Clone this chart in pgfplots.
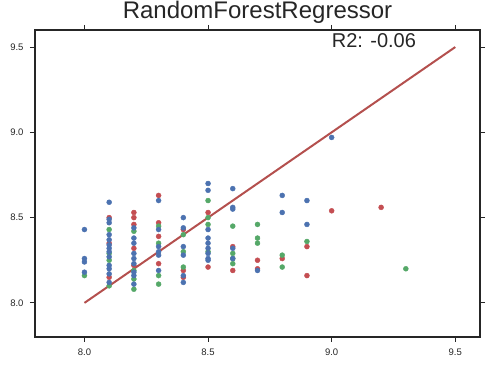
\documentclass[border=0pt]{standalone}
\usepackage{fontspec}
\setmainfont{Liberation Sans}
\usepackage{pgfplots}
\pgfplotsset{compat=1.18}
\definecolor{sbblue}{HTML}{4C72B0}
\definecolor{sbgreen}{HTML}{55A868}
\definecolor{sbred}{HTML}{C44E52}
\definecolor{lnred}{HTML}{B4504E}
\definecolor{axgray}{HTML}{262626}
\begin{document}
\begin{tikzpicture}[x=1pt,y=1pt]
\begin{axis}[
  at={(0,0)}, anchor=south west,
  width=445pt, height=307pt, scale only axis,
  xmin=7.8, xmax=9.6, ymin=7.8, ymax=9.6,
  xtick={8.0,8.5,9.0,9.5}, ytick={8.0,8.5,9.0,9.5},
  xticklabels={8.0,8.5,9.0,9.5}, yticklabels={8.0,8.5,9.0,9.5},
  tick align=outside, major tick length=5pt,
  tick pos=both,
  axis line style={axgray, line width=1.1pt},
  every tick/.style={axgray, line width=0.9pt},
  tick label style={font=\fontsize{9.5}{11}\selectfont, text=axgray},
  xticklabel style={yshift=-3pt},
  yticklabel style={xshift=-3pt},
  /pgf/number format/assume math mode=true,
  title={RandomForestRegressor},
  title style={font=\fontsize{24}{28}\selectfont, text=axgray, at={(0.5,1)}, anchor=base, yshift=5pt},
  clip=false,
]
\addplot[sbred, only marks, mark=*, mark size=2.5pt] coordinates {
(8.1,8.50)(8.1,8.35)(8.1,8.15)
(8.2,8.53)(8.2,8.50)(8.2,8.46)(8.2,8.32)(8.2,8.22)
(8.3,8.63)(8.3,8.47)(8.3,8.39)(8.3,8.23)
(8.4,8.43)(8.4,8.19)(8.4,8.15)
(8.5,8.53)(8.5,8.21)
(8.6,8.33)(8.6,8.19)
(8.7,8.25)(8.7,8.20)
(8.8,8.26)
(8.9,8.33)(8.9,8.16)
(9.0,8.54)
(9.2,8.56)
};
\addplot[sbgreen, only marks, mark=*, mark size=2.5pt] coordinates {
(8.0,8.16)
(8.1,8.43)(8.1,8.29)(8.1,8.25)(8.1,8.10)
(8.2,8.42)(8.2,8.19)(8.2,8.14)(8.2,8.08)
(8.3,8.45)(8.3,8.35)(8.3,8.16)(8.3,8.11)
(8.4,8.40)(8.4,8.30)(8.4,8.21)
(8.5,8.60)(8.5,8.50)(8.5,8.46)(8.5,8.30)
(8.6,8.45)(8.6,8.29)(8.6,8.26)(8.6,8.23)
(8.7,8.46)(8.7,8.38)(8.7,8.35)
(8.8,8.28)(8.8,8.21)
(8.9,8.36)
(9.3,8.20)
};
\addplot[sbblue, only marks, mark=*, mark size=2.5pt] coordinates {
(8.0,8.43)(8.0,8.26)(8.0,8.24)(8.0,8.18)
(8.1,8.59)(8.1,8.49)(8.1,8.47)(8.1,8.40)(8.1,8.37)(8.1,8.34)(8.1,8.32)(8.1,8.30)(8.1,8.27)(8.1,8.22)(8.1,8.20)(8.1,8.17)(8.1,8.12)
(8.2,8.44)(8.2,8.38)(8.2,8.35)(8.2,8.29)(8.2,8.26)(8.2,8.23)(8.2,8.18)(8.2,8.16)(8.2,8.11)
(8.3,8.60)(8.3,8.43)(8.3,8.33)(8.3,8.30)(8.3,8.28)(8.3,8.19)
(8.4,8.50)(8.4,8.44)(8.4,8.33)(8.4,8.28)(8.4,8.16)(8.4,8.12)
(8.5,8.70)(8.5,8.66)(8.5,8.43)(8.5,8.38)(8.5,8.35)(8.5,8.32)(8.5,8.29)(8.5,8.26)(8.5,8.25)
(8.6,8.67)(8.6,8.56)(8.6,8.55)(8.6,8.32)(8.6,8.26)
(8.7,8.19)
(8.8,8.63)(8.8,8.53)
(8.9,8.60)(8.9,8.46)
(9.0,8.97)
};
\addplot[lnred, line width=2pt] coordinates {(8.0,8.0)(9.5,9.5)};
\node[anchor=base west, inner sep=0pt, text=axgray, font=\fontsize{20}{24}\selectfont] at (axis cs:9.0,9.5) {R2: -0.06};
\end{axis}
\pgfresetboundingbox
\path (-35pt,-29pt) rectangle (452pt,337pt);
\end{tikzpicture}
\end{document}
